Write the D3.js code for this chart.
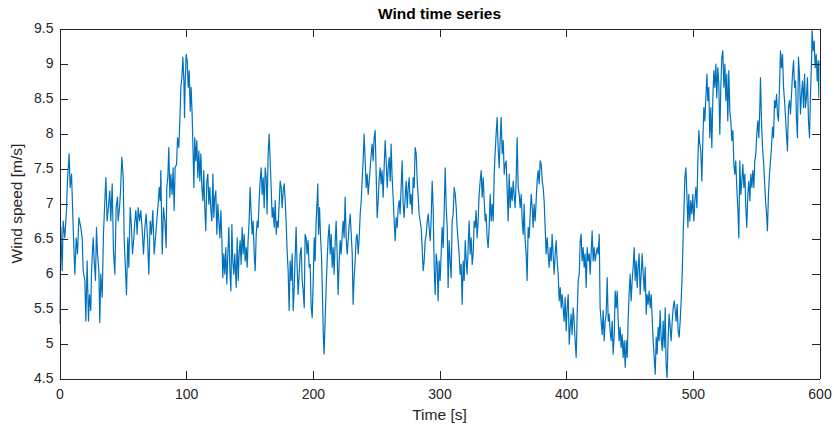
<!DOCTYPE html>
<html>
<head>
<meta charset="utf-8">
<script src="https://cdn.jsdelivr.net/npm/d3@7"></script>
<style>
  html, body { margin: 0; padding: 0; background: #fff; }
  svg { display: block; font-family: "Liberation Sans", Arial, Helvetica, sans-serif; }
</style>
</head>
<body>
<svg id="chart" width="834" height="425"></svg>
<script>
// ---- Data ----
const chartTitle = "Wind time series";
const xLabel = "Time [s]";
const yLabel = "Wind speed [m/s]";
const xTicks = [0, 100, 200, 300, 400, 500, 600];
const yTicks = [4.5, 5, 5.5, 6, 6.5, 7, 7.5, 8, 8.5, 9, 9.5];
const xDomain = [0, 600];
const yDomain = [4.5, 9.5];

// time [s]
const time = [
0,1.1,2.1,2.9,4.2,5.5,6.3,7.6,8.4,9.5,10.8,12.1,13.2,14.2,15.3,16.8,17.9,18.7,20.0,20.8,
21.8,22.9,23.7,24.7,25.3,26.6,27.4,28.4,29.2,30.0,31.1,31.8,32.6,33.7,34.7,35.8,36.6,37.6,38.4,39.7,
40.5,41.6,42.6,43.7,44.7,45.8,46.3,47.4,48.2,49.2,50.3,51.1,52.1,52.9,53.9,54.7,55.8,56.8,57.6,58.7,
59.5,60.3,61.3,62.1,63.2,64.2,65.3,66.3,67.4,68.4,69.5,70.5,71.6,72.6,73.7,74.7,75.8,76.8,77.9,78.7,
79.5,80.0,81.1,82.1,83.2,84.2,84.7,85.5,86.3,87.1,87.9,88.9,89.7,90.5,91.3,92.4,93.2,94.2,95.0,95.8,
96.6,97.4,98.2,98.7,
99.2,100.0,100.8,101.6,102.4,103.2,103.9,104.7,105.3,106.1,
106.8,107.6,108.4,109.2,110.0,110.8,111.6,112.4,113.2,113.9,
114.7,115.5,116.3,117.1,117.9,118.7,119.5,120.3,121.1,121.8,
122.6,123.4,124.2,125.0,125.8,126.6,127.4,128.2,128.9,129.7,
130.5,131.3,132.1,132.9,133.7,134.5,135.3,136.1,136.8,137.6,
138.4,139.5,140.3,141.1,141.8,142.6,143.4,144.2,145.0,145.8,
146.6,147.4,148.2,148.9,149.7,150.5,151.3,152.1,152.9,153.7,
154.5,155.3,156.1,156.8,157.6,158.4,159.2,160.0,160.8,161.6,
162.4,163.2,163.9,164.7,165.5,166.3,167.1,167.9,168.7,169.5,
170.3,171.1,171.8,172.6,173.4,174.2,175.0,175.8,176.6,177.4,
178.2,178.9,179.7,180.5,181.3,182.1,182.9,183.7,184.5,185.3,
186.1,186.8,187.6,188.4,189.2,190.0,190.8,191.6,192.4,193.2,
193.9,194.7,195.5,196.3,197.1,
197.9,198.7,199.5,200.3,201.1,201.8,202.6,203.4,203.9,204.5,
205.3,206.1,206.8,207.6,208.4,208.9,209.7,210.5,211.3,212.1,
212.9,213.7,214.5,215.3,216.1,216.8,217.6,218.4,219.2,220.0,
220.8,221.6,222.4,223.2,223.9,224.7,225.5,226.3,227.1,227.9,
228.7,229.5,230.3,231.1,231.8,232.6,233.4,234.2,235.0,235.8,
236.6,237.4,238.2,238.9,239.7,240.5,241.3,242.1,242.9,243.7,
244.5,245.3,246.1,246.8,247.6,248.4,249.2,250.0,250.8,251.6,
252.4,253.2,253.9,254.7,255.5,256.3,257.1,257.9,258.7,259.5,
260.3,261.1,261.8,262.6,263.4,264.2,265.0,265.8,266.6,267.4,
268.2,268.9,269.7,270.5,271.3,272.1,272.9,273.7,274.5,275.3,
276.1,276.8,277.6,278.4,279.2,280.0,280.8,281.6,282.4,283.2,
283.9,284.7,285.5,286.3,287.1,287.9,288.7,289.5,290.3,291.1,
291.8,292.6,293.4,294.2,295.0,295.8,
296.6,297.4,298.2,298.9,299.7,300.5,301.3,302.1,302.9,303.7,
304.5,305.3,306.1,306.8,307.6,308.4,309.2,310.0,310.8,311.6,
312.4,313.2,313.9,314.7,315.5,316.3,317.1,317.9,318.7,319.5,
320.3,321.1,321.8,322.6,323.4,324.2,325.0,325.8,326.6,327.4,
328.2,328.9,329.7,330.5,331.3,332.1,332.9,333.7,334.5,335.3,
336.1,336.8,337.6,338.4,339.2,340.0,340.8,341.6,342.4,343.2,
343.9,344.7,345.5,346.3,347.1,347.9,348.7,349.5,350.3,351.1,
351.8,352.6,353.4,354.2,355.0,355.8,356.6,357.4,358.2,358.9,
359.7,360.5,361.3,362.1,362.9,363.7,364.5,365.3,366.1,366.8,
367.6,368.4,369.2,370.0,370.8,371.6,372.4,373.2,373.9,374.7,
375.5,376.3,377.1,377.9,378.7,379.5,380.3,381.1,381.8,382.6,
383.4,384.2,385.0,385.8,386.6,387.4,388.2,388.9,389.7,390.5,
391.3,392.1,392.9,393.7,394.5,
395.3,396.1,396.8,397.6,398.4,399.2,400.0,400.8,401.6,402.4,
403.2,403.9,404.7,405.5,406.3,407.1,407.9,408.7,409.5,410.3,
411.1,411.8,412.6,413.4,414.2,415.0,415.8,416.6,417.4,418.2,
418.9,419.7,420.5,421.3,422.1,422.9,423.7,424.5,425.3,426.1,
426.8,427.6,428.4,429.2,430.0,430.8,431.6,432.4,433.2,433.9,
434.7,435.5,436.3,437.1,437.9,438.7,439.5,440.3,441.1,441.8,
442.6,443.4,444.2,445.0,445.8,446.6,447.4,448.2,448.9,449.7,
450.5,451.3,452.1,452.9,453.7,454.5,455.3,456.1,456.8,457.6,
458.4,459.2,460.0,460.8,461.6,462.4,463.2,463.9,464.7,465.5,
466.3,467.1,467.9,468.7,469.5,470.3,471.1,471.8,472.6,473.4,
474.2,475.0,475.8,476.6,477.4,478.2,478.9,479.7,480.5,481.3,
482.1,482.9,483.7,484.5,485.3,486.1,486.8,487.6,488.4,489.2,
490.0,490.8,491.6,492.4,493.2,493.7,
494.5,495.3,496.1,496.8,497.6,498.4,499.2,500.0,500.8,501.6,
502.4,503.2,503.9,504.7,505.5,506.3,507.1,507.9,508.7,509.5,
510.3,511.1,511.8,512.6,513.4,514.2,515.0,515.8,516.6,517.4,
518.2,518.9,519.7,520.5,521.3,522.1,522.9,523.7,524.5,525.3,
526.1,526.8,527.6,528.4,529.2,530.0,530.8,531.6,532.4,533.2,
533.9,534.7,535.5,536.3,537.1,537.9,538.7,539.5,540.3,541.1,
541.8,542.6,543.4,544.2,545.0,545.8,546.6,547.4,548.2,548.9,
549.7,550.5,551.3,552.1,552.9,553.4,554.2,555.0,555.8,556.6,
557.4,558.2,558.9,559.7,560.5,561.3,562.1,562.9,563.7,564.5,
565.3,566.1,566.8,567.6,568.4,569.2,570.0,570.8,571.6,572.4,
573.2,573.9,574.7,575.5,576.3,577.1,577.9,578.7,579.5,580.3,
581.1,581.8,582.6,583.4,584.2,585.0,585.8,586.6,587.4,588.2,
588.9,589.7,590.5,591.3,592.1,592.9,593.7,594.2,595.0,595.8,
596.6,597.4,598.2,598.9,599.5,600.0
];

// wind speed [m/s]
const speed = [
5.28,6.66,6.04,6.75,6.51,6.90,7.32,7.71,7.23,7.42,6.66,5.99,6.51,6.28,6.80,6.66,6.51,6.04,5.90,5.32,
6.18,5.32,5.70,5.47,6.04,6.51,6.18,5.90,6.66,6.28,6.04,5.30,5.99,5.66,6.56,7.04,7.37,6.75,6.90,7.18,
6.75,7.28,6.32,5.99,6.94,7.09,6.75,6.94,7.18,7.66,7.37,6.47,6.04,5.70,6.51,6.09,6.94,6.66,6.28,6.51,
6.75,6.90,6.56,6.94,6.75,6.90,6.61,6.28,6.66,6.85,6.51,5.99,6.75,6.56,6.90,6.28,6.51,6.75,6.99,7.23,
7.04,7.47,6.28,6.94,6.75,6.37,7.23,7.37,7.80,7.09,7.42,7.13,7.51,6.90,7.51,7.56,7.94,7.80,8.18,8.66,
8.80,9.09,8.75,8.23,
8.71,9.13,9.04,8.66,8.90,8.32,8.66,8.28,7.85,7.23,
7.94,7.61,7.90,7.37,7.75,7.32,7.71,7.23,7.04,7.47,
6.94,6.61,7.32,7.42,6.99,7.23,6.90,6.75,7.42,6.80,
7.09,7.18,6.56,6.99,6.75,6.51,6.90,6.47,5.94,6.28,
5.99,6.37,5.85,6.28,6.66,6.04,5.75,6.70,6.18,5.99,
6.28,5.80,6.51,5.90,6.28,6.47,6.13,6.66,6.28,6.56,
6.18,6.37,6.09,6.47,6.75,7.23,6.85,6.56,6.75,6.28,
6.04,6.56,6.75,6.66,7.04,7.32,7.51,7.13,7.37,6.94,
7.51,7.37,6.85,7.71,7.99,7.61,7.23,6.80,6.94,6.66,
7.04,6.56,6.75,6.66,6.99,7.32,7.23,6.94,7.18,7.28,
7.04,6.75,6.32,6.04,5.47,6.18,5.90,6.28,5.47,5.80,
6.28,6.66,6.09,5.70,5.99,6.28,6.37,5.90,5.75,5.51,
6.56,6.51,6.28,6.47,6.09,
6.13,5.51,5.37,5.90,6.51,6.18,6.75,7.04,7.28,6.56,
6.94,6.51,6.28,5.70,5.04,4.85,5.32,5.80,6.18,6.51,
6.70,6.28,6.56,6.09,6.37,5.99,6.42,6.75,6.28,5.70,
6.18,6.47,6.28,6.56,6.75,6.51,7.09,6.51,6.28,6.47,
6.70,6.85,6.56,6.28,5.56,5.94,6.18,6.51,6.56,6.28,
6.51,6.85,7.04,7.32,7.61,7.99,7.61,7.23,7.42,7.13,
7.32,7.51,7.71,7.85,7.61,7.94,8.04,7.42,6.80,7.04,
7.37,7.51,7.28,7.47,7.09,7.51,7.90,7.61,7.23,7.51,
7.66,7.32,7.85,7.37,7.09,6.75,6.47,6.80,6.66,6.94,
7.04,6.85,7.23,7.61,6.99,6.80,7.09,7.32,6.94,7.23,
7.37,6.99,7.13,6.85,7.37,7.23,7.80,7.71,7.32,7.09,
6.85,6.75,6.66,6.37,6.04,6.18,6.47,6.56,6.75,6.85,
6.66,6.47,6.75,7.32,6.94,6.09,
5.70,6.28,6.13,5.61,6.18,5.90,6.28,6.66,6.37,6.90,
7.51,6.94,6.66,5.80,6.47,6.18,5.94,6.75,6.85,7.23,
7.13,6.94,6.66,6.47,6.28,5.99,6.13,5.56,6.18,5.90,
6.47,6.18,5.99,6.37,6.75,6.28,6.51,6.13,6.28,6.75,
6.66,6.90,6.51,6.75,7.13,7.32,7.47,7.09,7.37,7.04,
6.75,6.85,6.51,6.37,6.66,7.13,6.75,6.99,6.75,7.42,
7.71,7.99,8.23,7.80,7.51,7.90,8.23,7.71,7.90,7.42,
7.56,7.61,7.23,6.75,7.42,6.94,7.23,7.04,7.32,7.13,
6.94,7.32,7.94,7.23,7.13,6.94,7.13,6.75,6.56,6.99,
6.47,6.28,5.90,6.66,6.51,6.85,7.13,6.94,6.66,6.99,
6.75,7.04,7.32,7.47,7.28,7.61,7.56,7.32,7.23,7.04,
6.66,6.28,6.51,6.28,6.09,6.37,6.18,6.56,6.28,5.99,
6.28,6.47,6.18,5.99,5.61,
5.80,5.51,5.70,5.51,5.32,5.66,5.18,5.51,5.70,4.99,
5.23,5.42,5.13,5.51,5.32,5.04,4.80,5.42,5.90,5.99,
6.47,6.56,6.18,6.37,6.09,6.28,5.80,6.37,6.18,6.28,
5.99,6.28,6.61,6.18,6.37,6.18,6.28,6.37,6.28,6.56,
5.51,5.32,5.13,5.47,5.04,5.32,5.42,5.94,5.32,5.42,
5.18,5.04,5.32,4.85,5.09,5.75,5.51,5.75,5.32,5.04,
5.23,4.94,5.13,4.80,5.04,4.66,5.04,4.80,5.32,5.70,
5.99,5.61,5.90,6.09,6.37,5.90,6.18,5.80,6.09,6.28,
5.70,5.99,6.28,5.99,5.75,6.09,5.42,5.70,5.56,5.75,
5.51,5.70,5.37,5.04,4.80,4.56,5.09,4.85,5.23,5.04,
5.47,5.09,4.90,5.32,4.94,5.51,4.70,4.51,5.09,5.42,
5.23,5.04,5.32,5.51,5.61,5.47,5.32,5.56,5.18,5.09,
5.32,5.61,5.99,6.56,7.04,7.37,
7.51,7.13,6.66,7.13,6.75,7.04,6.85,7.13,6.75,7.04,
7.23,6.94,7.56,8.04,7.85,7.75,7.32,7.90,8.37,8.18,
8.51,8.85,8.47,8.66,7.94,8.37,7.80,8.51,8.90,8.66,
8.99,8.51,8.94,8.71,7.99,8.66,9.09,9.18,8.66,8.99,
8.47,8.85,8.18,8.90,8.32,8.18,7.90,8.04,7.56,7.42,
7.61,7.23,6.94,6.51,7.61,7.13,7.32,7.56,7.23,7.42,
6.94,6.66,7.13,7.32,7.04,7.42,7.23,7.47,7.23,7.61,
7.71,7.99,8.18,7.94,8.37,8.80,8.18,7.80,7.61,7.32,
7.04,6.85,6.61,7.13,7.42,7.61,7.80,8.09,7.94,8.47,
8.37,8.56,8.28,8.18,8.66,9.18,8.94,9.13,8.66,8.47,
8.23,7.99,7.75,8.37,8.47,8.28,8.56,8.85,9.04,8.66,
8.75,8.23,7.94,9.09,8.85,8.28,8.56,8.75,8.37,8.85,
8.37,8.51,8.80,8.18,7.94,8.56,9.04,9.47,9.18,9.32,
8.94,9.13,8.75,9.04,8.51,9.04
];

// ---- Layout ----
const W = 834, H = 425;
const margin = { left: 59.5, right: 834 - 819.5, top: 28.5, bottom: 425 - 378.5 };
const svg = d3.select("#chart");
const innerW = W - margin.left - margin.right;
const innerH = H - margin.top - margin.bottom;

const x = d3.scaleLinear().domain(xDomain).range([0, innerW]);
const y = d3.scaleLinear().domain(yDomain).range([innerH, 0]);

const axisColor = "#262626";
const g = svg.append("g").attr("transform", `translate(${margin.left},${margin.top})`);

// clip
svg.append("defs").append("clipPath").attr("id", "clip")
  .append("rect").attr("x", 0).attr("y", 0).attr("width", innerW).attr("height", innerH);

// line
const n = Math.min(time.length, speed.length);
const pts = d3.range(n).map(i => [time[i], speed[i]]);
const line = d3.line().x(d => x(d[0])).y(d => y(d[1]));
g.append("path")
  .attr("clip-path", "url(#clip)")
  .attr("d", line(pts))
  .attr("fill", "none")
  .attr("stroke", "#0072BD")
  .attr("stroke-width", 1.2)
  .attr("stroke-linejoin", "round");

// axes
const tickLen = 8;
function styleAxis(sel) {
  sel.selectAll("path.domain").attr("stroke", axisColor).attr("stroke-width", 1).attr("shape-rendering", "crispEdges");
  sel.selectAll(".tick line").attr("stroke", axisColor).attr("stroke-width", 1).attr("shape-rendering", "crispEdges");
  sel.selectAll(".tick text").attr("fill", axisColor).attr("font-size", 14)
     .attr("font-family", "'Liberation Sans', Arial, Helvetica, sans-serif");
}

const xb = g.append("g").attr("transform", `translate(0,${innerH})`)
  .call(d3.axisBottom(x).tickValues(xTicks).tickSizeInner(-tickLen).tickSizeOuter(0).tickPadding(11).tickFormat(d3.format("d")));
styleAxis(xb);

const xt = g.append("g")
  .call(d3.axisTop(x).tickValues(xTicks).tickSizeInner(-tickLen).tickSizeOuter(0).tickFormat(""));
styleAxis(xt);

const yl = g.append("g")
  .call(d3.axisLeft(y).tickValues(yTicks).tickSizeInner(-tickLen).tickSizeOuter(0).tickPadding(6).tickFormat(d => String(d)));
styleAxis(yl);

const yr = g.append("g").attr("transform", `translate(${innerW},0)`)
  .call(d3.axisRight(y).tickValues(yTicks).tickSizeInner(-tickLen).tickSizeOuter(0).tickFormat(""));
styleAxis(yr);

// title and labels
svg.append("text")
  .attr("x", margin.left + innerW / 2).attr("y", 19)
  .attr("text-anchor", "middle")
  .attr("font-size", 15.5).attr("font-weight", "bold")
  .attr("fill", "#000")
  .text(chartTitle);

svg.append("text")
  .attr("x", margin.left + innerW / 2).attr("y", 420)
  .attr("text-anchor", "middle")
  .attr("font-size", 15.5)
  .attr("fill", axisColor)
  .text(xLabel);

svg.append("text")
  .attr("transform", `translate(22,${margin.top + innerH / 2}) rotate(-90)`)
  .attr("text-anchor", "middle")
  .attr("font-size", 15.5)
  .attr("fill", axisColor)
  .text(yLabel);
</script>
</body>
</html>
